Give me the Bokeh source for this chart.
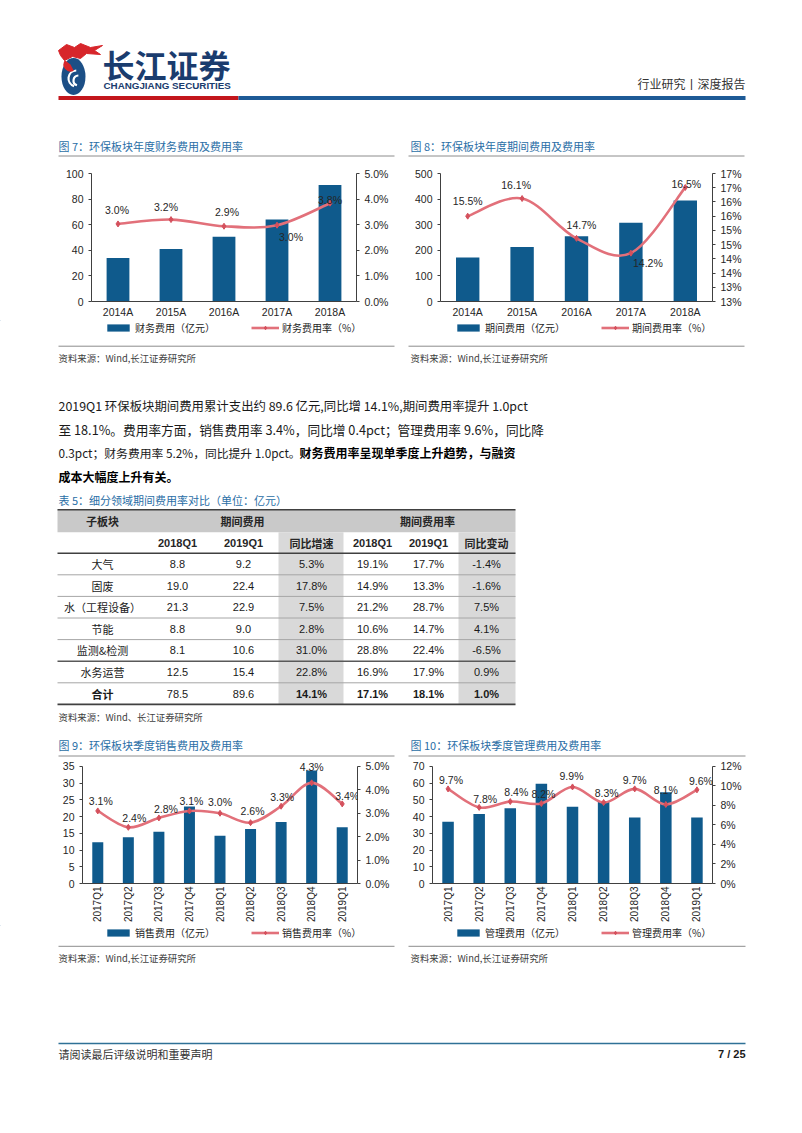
import math
from bokeh.plotting import figure
from bokeh.layouts import column, row
from bokeh.models import (Range1d, LinearAxis, FixedTicker, Legend, LegendItem,
                          ColumnDataSource, LabelSet)
from bokeh.core.properties import value
from bokeh.embed import file_html
from bokeh.resources import INLINE

# ---------------- data ----------------
YEARS = ["2014A", "2015A", "2016A", "2017A", "2018A"]
FIN_EXP = [34, 41, 50.5, 64, 91]
FIN_RATE = [3.03, 3.2, 2.94, 2.98, 3.84]
FIN_EXP_TICKS = [0, 20, 40, 60, 80, 100]
FIN_RATE_TICKS = [0, 1, 2, 3, 4, 5]
FIN_RATE_LABELS = ["0.0%", "1.0%", "2.0%", "3.0%", "4.0%", "5.0%"]

PER_EXP = [172, 213, 255, 308, 395]
PER_RATE = [15.5, 16.12, 14.72, 14.2, 16.51]
PER_EXP_TICKS = [0, 100, 200, 300, 400, 500]
PER_RATE_TICKS = [12.5, 13.0, 13.5, 14.0, 14.5, 15.0, 15.5, 16.0, 16.5, 17.0]
PER_RATE_LABELS = ["13%", "13%", "14%", "14%", "15%", "15%", "16%", "16%", "17%", "17%"]

QUARTERS = ["2017Q1", "2017Q2", "2017Q3", "2017Q4", "2018Q1", "2018Q2", "2018Q3", "2018Q4", "2019Q1"]
SALES_EXP = [12.3, 13.8, 15.5, 23.0, 14.3, 16.3, 18.4, 33.8, 16.8]
SALES_RATE = [3.1, 2.4, 2.8, 3.1, 3.0, 2.6, 3.3, 4.3, 3.4]
SALES_EXP_TICKS = [0, 5, 10, 15, 20, 25, 30, 35]
SALES_RATE_TICKS = [0, 1, 2, 3, 4, 5]
SALES_RATE_LABELS = ["0.0%", "1.0%", "2.0%", "3.0%", "4.0%", "5.0%"]

ADMIN_EXP = [36.9, 41.6, 45.0, 59.7, 45.9, 49.3, 39.4, 54.6, 39.4]
ADMIN_RATE = [9.7, 7.8, 8.4, 8.2, 9.9, 8.3, 9.7, 8.1, 9.6]
ADMIN_EXP_TICKS = [0, 10, 20, 30, 40, 50, 60, 70]
ADMIN_RATE_TICKS = [0, 2, 4, 6, 8, 10, 12]
ADMIN_RATE_LABELS = ["0%", "2%", "4%", "6%", "8%", "10%", "12%"]

TABLE_GROUPS = ["子板块", "期间费用", "期间费用率"]
TABLE_SUBHEAD = ["", "2018Q1", "2019Q1", "同比增速", "2018Q1", "2019Q1", "同比变动"]
SECTORS = ["大气", "固废", "水（工程设备）", "节能", "监测&检测", "水务运营", "合计"]
EXP_2018Q1 = [8.8, 19.0, 21.3, 8.8, 8.1, 12.5, 78.5]
EXP_2019Q1 = [9.2, 22.4, 22.9, 9.0, 10.6, 15.4, 89.6]
EXP_YOY = [5.3, 17.8, 7.5, 2.8, 31.0, 22.8, 14.1]
RATE_2018Q1 = [19.1, 14.9, 21.2, 10.6, 28.8, 16.9, 17.1]
RATE_2019Q1 = [17.7, 13.3, 28.7, 14.7, 22.4, 17.9, 18.1]
RATE_CHG = [-1.4, -1.6, 7.5, 4.1, -6.5, 0.9, 1.0]

# ---------------- style ----------------
CJK = "Noto Sans CJK SC"
NUM = "Liberation Sans"
BAR = "#0F5A8C"
LINE = "#E2707A"
MARK = "#D4505C"
AXC = "#404040"
TXT = "#262626"
TITLE_BLUE = "#2A6EA6"
RULE = "#8C8C8C"
SRC = "#404040"
PAGE_W = 802


def deco(y0, y1):
    p = figure(width=PAGE_W, height=int(round(y1 - y0)), x_range=Range1d(0, PAGE_W),
               y_range=Range1d(y1, y0), output_backend="svg", toolbar_location=None,
               min_border=0, x_axis_type=None, y_axis_type=None)
    p.grid.visible = False
    p.outline_line_color = None
    p.background_fill_color = "white"
    p.border_fill_color = "white"
    return p


def T(p, x, y, s, size=11, color=TXT, bold=False, align="left", font=CJK):
    p.text(x=[x], y=[y], text=[s], text_font=value(font), text_font_size=f"{size}px",
           text_color=color, text_align=align, text_baseline="middle",
           text_font_style="bold" if bold else "normal")


def H(p, x0, x1, y, color=RULE, w=1.0):
    p.segment(x0=[x0], y0=[y], x1=[x1], y1=[y], line_color=color, line_width=w)


def key(p, fig_bottom, x_left, y_center, bar_lab, line_lab):
    """chart key (legend) drawn in the page strip just below a chart;
    its sample glyphs sit outside the strip's visible range"""
    r1 = p.vbar(x=[-50], top=[0], bottom=[1], width=1, fill_color=BAR, line_color=None)
    r2 = p.line(x=[-50, -40], y=[0, 0], line_color=LINE, line_width=2.6)
    r3 = p.scatter(x=[-50], y=[0], marker="diamond", size=6, fill_color=MARK, line_color=MARK)
    lg = Legend(items=[LegendItem(label=bar_lab, renderers=[r1]),
                       LegendItem(label=line_lab, renderers=[r2, r3])],
                location=(x_left, fig_bottom - y_center - 7), orientation="horizontal",
                spacing=36, glyph_width=28, glyph_height=9, label_standoff=3, padding=0,
                margin=0, label_height=12, border_line_color=None, background_fill_alpha=0,
                label_text_font=CJK, label_text_font_size="10px", label_text_color=TXT,
                label_text_baseline="middle")
    p.add_layout(lg)


def smooth(xs, ys):
    n = len(xs)
    d = dict(x0=[], y0=[], x1=[], y1=[], cx0=[], cy0=[], cx1=[], cy1=[])
    for i in range(n - 1):
        a = i - 1 if i > 0 else i
        b = i + 2 if i + 2 < n else i + 1
        d["x0"].append(xs[i]); d["y0"].append(ys[i])
        d["x1"].append(xs[i + 1]); d["y1"].append(ys[i + 1])
        d["cx0"].append(xs[i] + (xs[i + 1] - xs[a]) / 6)
        d["cy0"].append(ys[i] + (ys[i + 1] - ys[a]) / 6)
        d["cx1"].append(xs[i + 1] - (xs[b] - xs[i]) / 6)
        d["cy1"].append(ys[i + 1] - (ys[b] - ys[i]) / 6)
    return d


def chart(cats, bars, rates, lticks, rticks, rlabels, bar_w, w, h, bl, br, bt, bb, ext,
          dx, dy, rotate):
    n = len(cats)
    xs = list(range(n))
    fh = h - bt - bb
    k = fh / (fh - ext)          # head-room above the top tick (px -> range)
    lr = (lticks[0], lticks[0] + (lticks[-1] - lticks[0]) * k)
    rr = (rticks[0], rticks[0] + (rticks[-1] - rticks[0]) * k)
    p = figure(width=w, height=h, x_range=Range1d(-0.5, n - 0.5),
               y_range=Range1d(*lr), output_backend="svg",
               toolbar_location=None, min_border_left=bl, min_border_right=br,
               min_border_top=bt, min_border_bottom=bb)
    p.extra_y_ranges = {"r": Range1d(*rr)}
    p.grid.visible = False
    p.outline_line_color = None
    p.background_fill_color = "white"
    p.border_fill_color = "white"

    xa = p.xaxis[0]
    xa.ticker = FixedTicker(ticks=xs)
    xa.major_label_overrides = {i: c for i, c in zip(xs, cats)}
    xa.major_tick_line_color = None
    xa.major_tick_out = 0
    xa.major_tick_in = 0
    xa.minor_tick_line_color = None
    xa.minor_tick_out = 0
    xa.axis_line_color = AXC
    xa.major_label_standoff = 3 if rotate else 4
    xa.major_label_text_font = NUM
    xa.major_label_text_font_size = "10px" if rotate else "10.5px"
    xa.major_label_text_color = TXT
    if rotate:
        xa.major_label_orientation = math.pi / 2

    ya = p.yaxis[0]
    ya.ticker = FixedTicker(ticks=lticks)
    ya.bounds = (lticks[0], lticks[-1])
    ra = LinearAxis(y_range_name="r", ticker=FixedTicker(ticks=rticks),
                    bounds=(rticks[0], rticks[-1]),
                    major_label_overrides={t: l for t, l in zip(rticks, rlabels)})
    p.add_layout(ra, "right")
    for ax in (ya, ra):
        ax.axis_line_color = AXC
        ax.major_tick_line_color = AXC
        ax.minor_tick_line_color = None
        ax.major_tick_out = 3
        ax.major_tick_in = 0
        ax.major_label_standoff = 5
        ax.major_label_text_font = NUM
        ax.major_label_text_font_size = "10.5px"
        ax.major_label_text_color = TXT

    p.vbar(x=xs, top=bars, width=bar_w, bottom=0, fill_color=BAR, line_color=None)
    p.bezier(source=ColumnDataSource(smooth(xs, rates)), x0="x0", y0="y0", x1="x1",
             y1="y1", cx0="cx0", cy0="cy0", cx1="cx1", cy1="cy1",
             line_color=LINE, line_width=2.6, y_range_name="r")
    p.scatter(x=xs, y=rates, marker="diamond", size=6, fill_color=MARK,
              line_color=MARK, y_range_name="r")

    src = ColumnDataSource(dict(x=xs, y=rates, t=[f"{v:.1f}%" for v in rates], dx=dx, dy=dy))
    p.add_layout(LabelSet(x="x", y="y", text="t", source=src, y_range_name="r",
                          x_offset="dx", y_offset="dy", text_align="center",
                          text_baseline="middle", text_font=value(NUM),
                          text_font_size="10.5px", text_color=TXT))
    return p


# ---------------- header (y 0 -> 157) ----------------
top = deco(0, 157)
# logo
top.patch(x=[58, 66, 74, 80, 90, 102, 94, 100, 86, 80, 72, 64, 60],
          y=[50, 44, 47, 43, 47, 45, 50, 54, 53, 58, 56, 60, 55],
          fill_color="#D7262B", line_color="#D7262B")
top.ellipse(x=[73], y=[76], width=[24], height=[37], fill_color="#1C4F86", line_color=None)
top.arc(x=[76, 78], y=[78, 80], radius=[8, 5], start_angle=[1.6, 1.6], end_angle=[4.4, 4.4],
        line_color="white", line_width=2.2)
top.wedge(x=[70], y=[64], radius=7, start_angle=2.5, end_angle=5.2, fill_color="#D7262B",
          line_color=None)
T(top, 102, 63, "长江证券", size=32, color="#1A3C6E", bold=True)
T(top, 103, 84.5, "CHANGJIANG SECURITIES", size=9.8, color="#1A3C6E", bold=True, font=NUM)
T(top, 745, 83, "行业研究丨深度报告", size=12, color="#333333", align="right")
H(top, 58, 238, 97.5, color="#C3161C", w=4)
H(top, 238, 745, 97.5, color="#1D5A96", w=4)
# chart titles
T(top, 58, 145, "图 7：环保板块年度财务费用及费用率", size=11, color=TITLE_BLUE)
T(top, 410, 145, "图 8：环保板块年度期间费用及费用率", size=11, color=TITLE_BLUE)
H(top, 58, 394, 155.5)
H(top, 408, 744, 155.5)

# ---------------- charts 7/8 (y 157 -> 320) ----------------
c7 = chart(YEARS, FIN_EXP, FIN_RATE, FIN_EXP_TICKS, FIN_RATE_TICKS, FIN_RATE_LABELS,
           0.43, 400, 163, 91, 44, 16, 18, 0,
           [-1, -5, 3, 14, 0], [14, 13, 14, -12, 3], False)
c8 = chart(YEARS, PER_EXP, PER_RATE, PER_EXP_TICKS, PER_RATE_TICKS, PER_RATE_LABELS,
           0.43, 402, 163, 40, 90, 16, 18, 0,
           [0, -6, 5, 17, 1], [15, 14, 13, -10, 3], False)

# ---------------- middle (y 320 -> 757) ----------------
MID0, MID1 = 320, 757
mid = deco(MID0, MID1)
key(mid, MID1, 104, 328, "财务费用（亿元）", "财务费用率（%）")
key(mid, MID1, 454, 328, "期间费用（亿元）", "期间费用率（%）")
H(mid, 58, 394, 345.7)
H(mid, 408, 744, 345.7)
T(mid, 58, 357.5, "资料来源：Wind,长江证券研究所", size=9.4, color=SRC)
T(mid, 410, 357.5, "资料来源：Wind,长江证券研究所", size=9.4, color=SRC)

PT = "#1A1A1A"
T(mid, 58, 405, "2019Q1 环保板块期间费用累计支出约 89.6 亿元,同比增 14.1%,期间费用率提升 1.0pct", size=12.4, color=PT)
T(mid, 58, 428.5, "至 18.1%。费用率方面，销售费用率 3.4%，同比增 0.4pct；管理费用率 9.6%，同比降", size=12.7, color=PT)
T(mid, 58, 452, "0.3pct；财务费用率 5.2%，同比提升 1.0pct。", size=11.8, color=PT)
T(mid, 515, 452, "财务费用率呈现单季度上升趋势，与融资", size=12.0, color="#000000", bold=True, align="right")
T(mid, 58, 475.5, "成本大幅度上升有关。", size=12.0, color="#000000", bold=True)

T(mid, 58, 499, "表 5：细分领域期间费用率对比（单位：亿元）", size=11, color=TITLE_BLUE)

# table
TL, TR = 57, 515
COLX = [102, 177, 243, 311, 372, 428, 486]
SHADE = [(278, 343), (458, 515)]
Y0, Y1, Y2, RH = 509.3, 531.7, 552.7, 21.6
nrows = len(SECTORS)
ybot = Y2 + RH * nrows
mid.quad(left=[TL], right=[TR], top=[Y0], bottom=[Y1], fill_color="#C9C9C9", line_color=None)
mid.quad(left=[s[0] for s in SHADE], right=[s[1] for s in SHADE], top=[Y1] * 2,
         bottom=[ybot] * 2, fill_color="#D9D9D9", line_color=None)
ym = (Y0 + Y1) / 2
T(mid, COLX[0], ym, TABLE_GROUPS[0], size=11, bold=True, align="center")
T(mid, (COLX[1] + COLX[3]) / 2 - 2, ym, TABLE_GROUPS[1], size=11, bold=True, align="center")
T(mid, (COLX[4] + COLX[6]) / 2 - 2, ym, TABLE_GROUPS[2], size=11, bold=True, align="center")
ym = (Y1 + Y2) / 2
for cx, s in zip(COLX, TABLE_SUBHEAD):
    if s:
        T(mid, cx, ym, s, size=11, bold=True, align="center",
          font=NUM if s[0].isdigit() else CJK)
for i in range(nrows):
    yc = Y2 + RH * (i + 0.5)
    last = i == nrows - 1
    cells = [SECTORS[i], f"{EXP_2018Q1[i]:.1f}", f"{EXP_2019Q1[i]:.1f}", f"{EXP_YOY[i]:.1f}%",
             f"{RATE_2018Q1[i]:.1f}%", f"{RATE_2019Q1[i]:.1f}%", f"{RATE_CHG[i]:.1f}%"]
    for j, (cx, s) in enumerate(zip(COLX, cells)):
        bold = last and j not in (1, 2)
        T(mid, cx, yc, s, size=11, bold=bold, align="center", font=CJK if j == 0 else NUM,
          color="#1A1A1A")
for i in range(1, nrows):
    yl = Y2 + RH * i
    if i == 5:
        H(mid, TL, TR, yl, color="#595959", w=1.6)
    else:
        H(mid, TL, TR, yl, color="#A6A6A6", w=1)
H(mid, TL, TR, Y0, color="#404040", w=1.6)
H(mid, TL, TR, Y2, color="#404040", w=1.6)
H(mid, TL, TR, ybot, color="#404040", w=1.6)
T(mid, 58, 716, "资料来源：Wind、长江证券研究所", size=9.4, color=SRC)

T(mid, 58, 744, "图 9：环保板块季度销售费用及费用率", size=11, color=TITLE_BLUE)
T(mid, 410, 744, "图 10：环保板块季度管理费用及费用率", size=11, color=TITLE_BLUE)
H(mid, 58, 394, 755.5)
H(mid, 408, 745, 755.5)

# ---------------- charts 9/10 (y 757 -> 925) ----------------
c9 = chart(QUARTERS, SALES_EXP, SALES_RATE, SALES_EXP_TICKS, SALES_RATE_TICKS, SALES_RATE_LABELS,
           0.36, 400, 168, 82, 43, 2, 41, 7,
           [3, 6, 7, 2, 0, 2, 1, 0, 5], [10, 9, 9, 10, 11, 12, 9, 16, 8], True)
c10 = chart(QUARTERS, ADMIN_EXP, ADMIN_RATE, ADMIN_EXP_TICKS, ADMIN_RATE_TICKS, ADMIN_RATE_LABELS,
            0.37, 402, 168, 32, 90, 2, 41, 7,
            [3, 6, 6, 2, -1, 3, 0, 0, 4], [9, 8, 10, 10, 11, 10, 9, 14, 9], True)

# ---------------- footer (y 925 -> 1133) ----------------
BOT0, BOT1 = 925, 1133
bot = deco(BOT0, BOT1)
key(bot, BOT1, 104, 932.5, "销售费用（亿元）", "销售费用率（%）")
key(bot, BOT1, 454, 932.5, "管理费用（亿元）", "管理费用率（%）")
H(bot, 58, 394, 945.8)
H(bot, 408, 745, 945.8)
T(bot, 58, 957.7, "资料来源：Wind,长江证券研究所", size=9.4, color=SRC)
T(bot, 410, 957.7, "资料来源：Wind,长江证券研究所", size=9.4, color=SRC)
H(bot, 58, 745, 1043, color="#2F7196", w=1.5)
T(bot, 58, 1053.5, "请阅读最后评级说明和重要声明", size=11, color="#333333")
T(bot, 745, 1053.5, "7 / 25", size=11, color="#1A1A1A", bold=True, align="right", font=NUM)

page = column(top, row(c7, c8), mid, row(c9, c10), bot)
open("out.html", "w").write(file_html(page, INLINE))
